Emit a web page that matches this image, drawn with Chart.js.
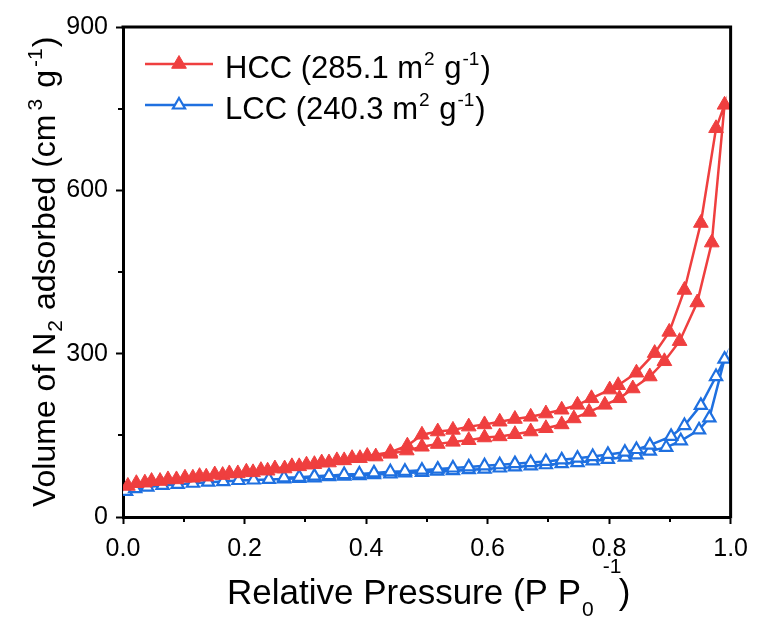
<!DOCTYPE html>
<html>
<head>
<meta charset="utf-8">
<title>N2 isotherms</title>
<script src="https://cdn.jsdelivr.net/npm/chart.js"></script>
<style>
  html, body { margin: 0; padding: 0; background: #fff; }
  #wrap { width: 758px; height: 621px; }
</style>
</head>
<body>
<div id="wrap"><canvas id="iso" width="758" height="621"></canvas></div>
<script>
// HCC isotherm, adsorption branch (P/P0, cm3 g-1)
const hccAdsX = [0.008, 0.036, 0.061, 0.088, 0.115, 0.137, 0.164, 0.189, 0.214, 0.238, 0.266, 0.290, 0.315, 0.339, 0.364, 0.390, 0.416, 0.440, 0.467, 0.492, 0.518, 0.543, 0.569, 0.595, 0.620, 0.645, 0.671, 0.696, 0.722, 0.742, 0.767, 0.793, 0.817, 0.839, 0.867, 0.891, 0.916, 0.945, 0.969, 0.990];
const hccAdsY = [57, 63, 66, 69, 72, 74, 77, 80, 82, 85, 89, 93, 97, 100, 104, 108, 111, 116, 122, 129, 134, 138, 141, 146, 148, 152, 157, 163, 170, 181, 193, 206, 218, 236, 258, 286, 323, 394, 504, 757];
// HCC desorption branch
const hccDesX = [0.976, 0.951, 0.924, 0.899, 0.875, 0.845, 0.815, 0.801, 0.771, 0.748, 0.722, 0.696, 0.671, 0.645, 0.620, 0.595, 0.569, 0.543, 0.518, 0.492, 0.468, 0.440, 0.402, 0.377, 0.352, 0.327, 0.302, 0.278, 0.250, 0.227, 0.203, 0.175, 0.151, 0.126, 0.102, 0.074, 0.047, 0.022];
const hccDesY = [714, 540, 417, 340, 301, 265, 242, 234, 218, 206, 197, 190, 184, 180, 175, 170, 166, 160, 157, 151, 131, 119, 112, 108, 104, 100, 96, 93, 89, 86, 83, 80, 78, 75, 72, 69, 66, 62];

// LCC isotherm, adsorption branch
const lccAdsX = [0.005, 0.020, 0.040, 0.065, 0.090, 0.115, 0.140, 0.165, 0.190, 0.215, 0.240, 0.265, 0.290, 0.315, 0.339, 0.364, 0.389, 0.413, 0.440, 0.464, 0.492, 0.517, 0.543, 0.569, 0.595, 0.620, 0.645, 0.671, 0.696, 0.722, 0.748, 0.773, 0.798, 0.826, 0.845, 0.867, 0.894, 0.918, 0.948, 0.965, 0.990];
const lccAdsY = [47, 52, 55, 58, 60, 62, 64, 65, 67, 68, 69, 70, 71, 72, 74, 75, 76, 78, 79, 81, 82, 84, 85, 87, 88, 90, 92, 94, 96, 98, 100, 103, 106, 110, 114, 121, 128, 140, 160, 182, 290];
// LCC desorption branch
const lccDesX = [0.976, 0.951, 0.924, 0.902, 0.867, 0.845, 0.826, 0.798, 0.773, 0.748, 0.722, 0.696, 0.671, 0.645, 0.620, 0.595, 0.569, 0.543, 0.518, 0.492, 0.464, 0.440, 0.413, 0.389, 0.364, 0.339, 0.315, 0.290, 0.265];
const lccDesY = [258, 205, 168, 148, 132, 124, 119, 115, 111, 108, 105, 102, 100, 98, 96, 94, 92, 90, 88, 86, 84, 83, 81, 79, 78, 76, 75, 73, 72];

const xMinor = [0.1, 0.3, 0.5, 0.7, 0.9];
const yMinor = [150, 450, 750];

const FONT = "'Liberation Sans', Arial, Helvetica, sans-serif";
const RED = '#ef3f3f';
const BLUE = '#1f70e0';

function toPoints(xs, ys) {
  return xs.map((x, i) => ({ x: x, y: ys[i] }));
}

// draws a run of text pieces: [text, size, dy, gapBefore]
function drawRich(ctx, parts, x, y) {
  let cx = x;
  parts.forEach(p => {
    const [txt, size, dy, gap] = p;
    cx += gap || 0;
    ctx.font = size + 'px ' + FONT;
    ctx.fillText(txt, cx, y + (dy || 0));
    cx += ctx.measureText(txt).width;
  });
  return cx;
}

function triangle(ctx, x, y, r) {
  ctx.beginPath();
  for (let k = 0; k < 3; k++) {
    const a = k * 2 * Math.PI / 3;
    const px = x + Math.sin(a) * r, py = y - Math.cos(a) * r;
    if (k === 0) ctx.moveTo(px, py); else ctx.lineTo(px, py);
  }
  ctx.closePath();
}

const decor = {
  id: 'decor',
  afterDraw(chart) {
    const { ctx, chartArea: a, scales: { x, y } } = chart;
    ctx.save();
    // box top and right
    ctx.strokeStyle = '#000';
    ctx.lineWidth = 3;
    ctx.beginPath();
    ctx.moveTo(a.left - 1.5, a.top);
    ctx.lineTo(a.right, a.top);
    ctx.lineTo(a.right, a.bottom + 1.5);
    ctx.stroke();

    // minor ticks
    ctx.lineWidth = 2;
    ctx.beginPath();
    xMinor.forEach(v => {
      const px = Math.round(x.getPixelForValue(v));
      ctx.moveTo(px, a.bottom); ctx.lineTo(px, a.bottom + 5);
    });
    yMinor.forEach(v => {
      const py = Math.round(y.getPixelForValue(v));
      ctx.moveTo(a.left, py); ctx.lineTo(a.left - 5, py);
    });
    ctx.stroke();

    ctx.fillStyle = '#000';
    ctx.textBaseline = 'alphabetic';
    ctx.textAlign = 'left';

    // x title
    const end = drawRich(ctx, [['Relative Pressure (P P', 35, 0]], 227, 604);
    const sub = drawRich(ctx, [['0', 21, 12, 1]], end, 604);
    drawRich(ctx, [['-1', 21, 0]], sub + 9, 573);
    drawRich(ctx, [[')', 35, 0]], sub + 25, 604);

    // y title, rotated
    ctx.save();
    ctx.translate(55, 507);
    ctx.rotate(-Math.PI / 2);
    drawRich(ctx, [
      ['Volume of N', 32, 0],
      ['2', 21, 7, 1],
      [' adsorbed (cm', 32, 0, 1],
      ['3', 21, -13, 4],
      ['g', 32, 0, 11],
      ['-1', 21, -13, 3],
      [')', 32, 0, 1]
    ], 0, 0);
    ctx.restore();

    // legend
    const rows = [
      { ds: chart.data.datasets[0], y: 64, parts: [['HCC (285.1 m', 31, 0], ['2', 19, -13, 1], [' g', 31, 0, 1], ['-1', 19, -13, 1], [')', 31, 0, 1]] },
      { ds: chart.data.datasets[1], y: 105, parts: [['LCC (240.3 m', 31, 0], ['2', 19, -13, 1], [' g', 31, 0, 1], ['-1', 19, -13, 1], [')', 31, 0, 1]] }
    ];
    rows.forEach(r => {
      ctx.strokeStyle = r.ds.borderColor;
      ctx.lineWidth = r.ds.borderWidth;
      ctx.beginPath();
      ctx.moveTo(145, r.y); ctx.lineTo(213, r.y);
      ctx.stroke();
      triangle(ctx, 179, r.y, r.ds.pointRadius);
      ctx.fillStyle = r.ds.pointBackgroundColor;
      ctx.fill();
      ctx.lineWidth = r.ds.pointBorderWidth;
      ctx.strokeStyle = r.ds.pointBorderColor;
      ctx.stroke();
      ctx.fillStyle = '#000';
      drawRich(ctx, r.parts, 225, r.y + 14);
    });
    ctx.restore();
  }
};

new Chart(document.getElementById('iso'), {
  type: 'scatter',
  data: {
    datasets: [
      {
        label: 'HCC (285.1 m2 g-1)',
        data: toPoints(hccAdsX.concat(hccDesX), hccAdsY.concat(hccDesY)),
        showLine: true,
        borderColor: RED,
        borderWidth: 2.5,
        pointStyle: 'triangle',
        pointRadius: 8.5,
        pointBackgroundColor: RED,
        pointBorderColor: RED,
        pointBorderWidth: 1
      },
      {
        label: 'LCC (240.3 m2 g-1)',
        data: toPoints(lccAdsX.concat(lccDesX), lccAdsY.concat(lccDesY)),
        showLine: true,
        borderColor: BLUE,
        borderWidth: 2.5,
        pointStyle: 'triangle',
        pointRadius: 7,
        pointBackgroundColor: '#fff',
        pointBorderColor: BLUE,
        pointBorderWidth: 2.2
      }
    ]
  },
  options: {
    responsive: false,
    animation: false,
    devicePixelRatio: 1,
    events: [],
    layout: { padding: { top: 27, right: 24, left: 0, bottom: 0 } },
    plugins: { legend: { display: false }, tooltip: { enabled: false } },
    scales: {
      x: {
        type: 'linear',
        min: 0,
        max: 1,
        afterFit: s => { s.height = 104; },
        border: { display: true, color: '#000', width: 3 },
        grid: { drawOnChartArea: false, drawTicks: true, tickLength: 7, tickWidth: 2, tickColor: '#000' },
        ticks: {
          stepSize: 0.2,
          padding: 10,
          color: '#000',
          font: { family: FONT, size: 25 },
          maxRotation: 0,
          callback: v => v.toFixed(1)
        }
      },
      y: {
        min: 0,
        max: 900,
        afterFit: s => { s.width = 123; },
        border: { display: true, color: '#000', width: 3 },
        grid: { drawOnChartArea: false, drawTicks: true, tickLength: 7, tickWidth: 2, tickColor: '#000' },
        ticks: {
          stepSize: 300,
          padding: 8,
          color: '#000',
          font: { family: FONT, size: 25 }
        }
      }
    }
  },
  plugins: [decor]
});
</script>
</body>
</html>
